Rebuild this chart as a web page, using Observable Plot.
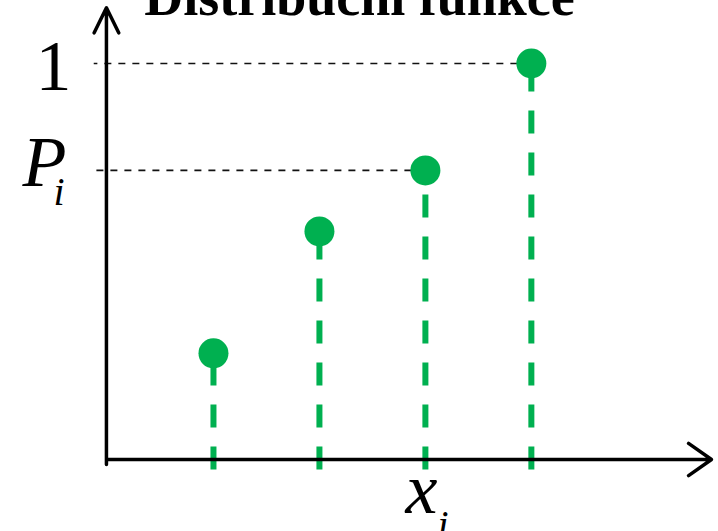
<!DOCTYPE html>
<html>
<head>
<meta charset="utf-8">
<script src="https://cdn.jsdelivr.net/npm/d3@7"></script>
<script src="https://cdn.jsdelivr.net/npm/@observablehq/plot@0.6"></script>
<style>
  html, body { margin: 0; padding: 0; background: #fff; }
</style>
</head>
<body>
<div id="chart"></div>
<script>
// Step positions x_k and cumulative probabilities F(x_k)
const xValues = [1, 2, 3, 4];
const cdfValues = [0.268, 0.576, 0.73, 1];

// Levels marked on the vertical axis with dashed guides
const guideX = [3, 4];
const guideLevels = [0.73, 1];
const guideLabels = ["P", "1"];
const guideSubscripts = ["i", ""];

// Label under the horizontal axis
const xLabelAt = 3;
const xLabel = "x";
const xLabelSub = "i";

const title = "Distribuční funkce";

const green = "#00b050";
const serif = "'Liberation Serif', 'Times New Roman', serif";

const points = xValues.map((x, i) => ({x, F: cdfValues[i]}));
const guides = guideX.map((x, i) => ({x, F: guideLevels[i], label: guideLabels[i], sub: guideSubscripts[i]}));
const symbolGuides = guides.filter((d) => d.sub !== "");
const numberGuides = guides.filter((d) => d.sub === "");

const chart = Plot.plot({
  width: 718,
  height: 531,
  margin: 0,
  style: {background: "#fff", overflow: "visible"},
  x: {domain: [0, 5.7], range: [107, 711], axis: null},
  y: {domain: [0, 1], range: [459, 63], axis: null},
  marks: [
    // dashed guides from the points back to the vertical axis
    Plot.link(guides, {
      x1: "x", y1: "F", x2: -0.13, y2: "F",
      stroke: "#111", strokeWidth: 1.6, strokeDasharray: "7,7"
    }),
    // dashed stems from below the axis up to each point
    Plot.link(points, {
      x1: "x", y1: -0.0253, x2: "x", y2: "F",
      stroke: green, strokeWidth: 6, strokeDasharray: "23,19"
    }),
    // axes with open arrowheads
    Plot.arrow([0], {
      x1: 0, y1: 0, x2: 5.7, y2: 0,
      stroke: "black", strokeWidth: 3.5, headLength: 12, headAngle: 70
    }),
    Plot.arrow([0], {
      x1: -0.01, y1: -0.0126, x2: -0.01, y2: 1.141,
      stroke: "black", strokeWidth: 3.5, headLength: 12, headAngle: 52
    }),
    Plot.dot(points, {x: "x", y: "F", r: 15, fill: green, stroke: null}),
    // axis level labels: a plain number and an italic symbol with subscript
    Plot.text(numberGuides, {
      x: 0, y: "F", text: "label",
      textAnchor: "start", lineAnchor: "middle",
      dx: -72, dy: 3,
      fontFamily: serif, fontSize: 72
    }),
    Plot.text(symbolGuides, {
      x: 0, y: "F", text: "label",
      textAnchor: "start", lineAnchor: "middle",
      dx: -85, dy: -7,
      fontFamily: serif, fontSize: 72, fontStyle: "italic"
    }),
    Plot.text(symbolGuides, {
      x: 0, y: "F", text: "sub",
      textAnchor: "start", lineAnchor: "middle",
      dx: -54, dy: 22,
      fontFamily: serif, fontSize: 40, fontStyle: "italic"
    }),
    // horizontal axis label
    Plot.text([xLabel], {
      x: xLabelAt, y: 0, text: (d) => d,
      textAnchor: "start", lineAnchor: "middle",
      dx: -20, dy: 30,
      fontFamily: serif, fontSize: 72, fontStyle: "italic"
    }),
    Plot.text([xLabelSub], {
      x: xLabelAt, y: 0, text: (d) => d,
      textAnchor: "start", lineAnchor: "middle",
      dx: 12, dy: 66,
      fontFamily: serif, fontSize: 40, fontStyle: "italic"
    }),
    // title, partly above the top edge
    Plot.text([title], {
      frameAnchor: "top", text: (d) => d,
      lineAnchor: "middle", dy: -3,
      fontFamily: serif, fontSize: 54, fontWeight: "bold"
    })
  ]
});

document.getElementById("chart").appendChild(chart);
</script>
</body>
</html>
